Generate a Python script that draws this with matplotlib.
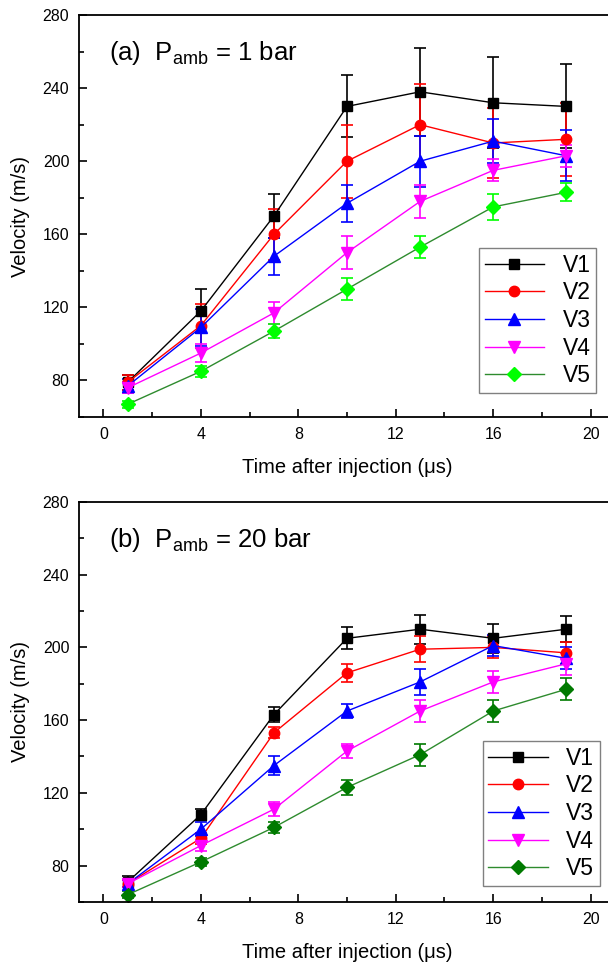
import matplotlib
matplotlib.use("Agg")
from matplotlib import pyplot as plt
from matplotlib.ticker import MultipleLocator

plt.rcParams['font.family'] = ['Liberation Sans', 'DejaVu Sans']
plt.rcParams['mathtext.default'] = 'regular'

# Time after injection (us)
time = [1, 4, 7, 10, 13, 16, 19]
labels = ['V1', 'V2', 'V3', 'V4', 'V5']

# (a) P_amb = 1 bar
a_v1 = [79, 118, 170, 230, 238, 232, 230]
a_v2 = [79, 110, 160, 200, 220, 210, 212]
a_v3 = [77, 109, 148, 177, 200, 211, 203]
a_v4 = [76, 95, 117, 150, 178, 195, 203]
a_v5 = [67, 85, 107, 130, 153, 175, 183]
a_e1 = [4, 12, 12, 17, 24, 25, 23]
a_e2 = [4, 12, 14, 20, 22, 19, 20]
a_e3 = [4, 10, 10, 10, 14, 12, 14]
a_e4 = [3, 5, 6, 9, 9, 6, 6]
a_e5 = [2, 3, 4, 6, 6, 7, 5]

# (b) P_amb = 20 bar
b_v1 = [71, 108, 163, 205, 210, 205, 210]
b_v2 = [70, 95, 153, 186, 199, 200, 197]
b_v3 = [70, 100, 135, 165, 181, 201, 194]
b_v4 = [70, 91, 111, 143, 165, 181, 191]
b_v5 = [64, 82, 101, 123, 141, 165, 177]
b_e1 = [3, 3, 4, 6, 8, 8, 7]
b_e2 = [2, 3, 3, 5, 7, 6, 6]
b_e3 = [2, 4, 5, 4, 7, 6, 6]
b_e4 = [2, 3, 4, 4, 6, 6, 6]
b_e5 = [2, 2, 3, 4, 6, 6, 6]

markers = ['s', 'o', '^', 'v', 'D']
sizes = [7, 7.5, 8, 8, 7]
line_colors = ['black', '#FF0000', '#0000FF', '#FF00FF', '#2E8B2E']


def panel(ax, series, errors, title, v5_color, anchor):
    mcolors = line_colors[:4] + [v5_color]
    handles = []
    for i in range(5):
        c = ax.errorbar(time, series[i], yerr=errors[i], color=line_colors[i],
                        ecolor=mcolors[i], mfc=mcolors[i], mec=mcolors[i],
                        marker=markers[i], ms=sizes[i], lw=1.0, elinewidth=1.2,
                        capsize=4.5, capthick=1.2, label=labels[i])
        handles.append(c.lines[0])
    ax.set_xlim(-1, 21)
    ax.set_ylim(60, 280)
    ax.xaxis.set_major_locator(MultipleLocator(4))
    ax.xaxis.set_minor_locator(MultipleLocator(2))
    ax.yaxis.set_major_locator(MultipleLocator(40))
    ax.yaxis.set_minor_locator(MultipleLocator(20))
    ax.tick_params(which='both', direction='in', width=1.2, labelsize=11.5)
    ax.tick_params(which='major', length=6, pad=7)
    ax.tick_params(which='minor', length=3.5)
    ax.tick_params(top=False, right=False)
    for s in ax.spines.values():
        s.set_linewidth(1.3)
    ax.set_xlabel('Time after injection (\u03bcs)', fontsize=14.5, labelpad=12)
    ax.set_ylabel('Velocity (m/s)', fontsize=14.5, labelpad=9)
    ax.text(0.056, 0.888, title, transform=ax.transAxes, fontsize=18.5,
            va='baseline')
    ax.legend(handles, labels, loc='lower right', bbox_to_anchor=anchor,
              borderaxespad=0, fontsize=16.5, fancybox=False,
              edgecolor='#808080', framealpha=1, handlelength=2.6,
              labelspacing=0.2, handletextpad=0.8, borderpad=0.25)


fig = plt.figure(figsize=(6.08, 9.66), dpi=100)

ax1 = fig.add_axes([0.1299, 0.5683, 0.8816, 0.4161])
panel(ax1, [a_v1, a_v2, a_v3, a_v4, a_v5], [a_e1, a_e2, a_e3, a_e4, a_e5],
      '(a)  P$_{amb}$ = 1 bar', '#00FF00', (0.965, 0.06))

ax2 = fig.add_axes([0.1299, 0.0663, 0.8816, 0.4141])
panel(ax2, [b_v1, b_v2, b_v3, b_v4, b_v5], [b_e1, b_e2, b_e3, b_e4, b_e5],
      '(b)  P$_{amb}$ = 20 bar', '#007A00', (0.972, 0.04))

fig.savefig('out.png', dpi=100)
